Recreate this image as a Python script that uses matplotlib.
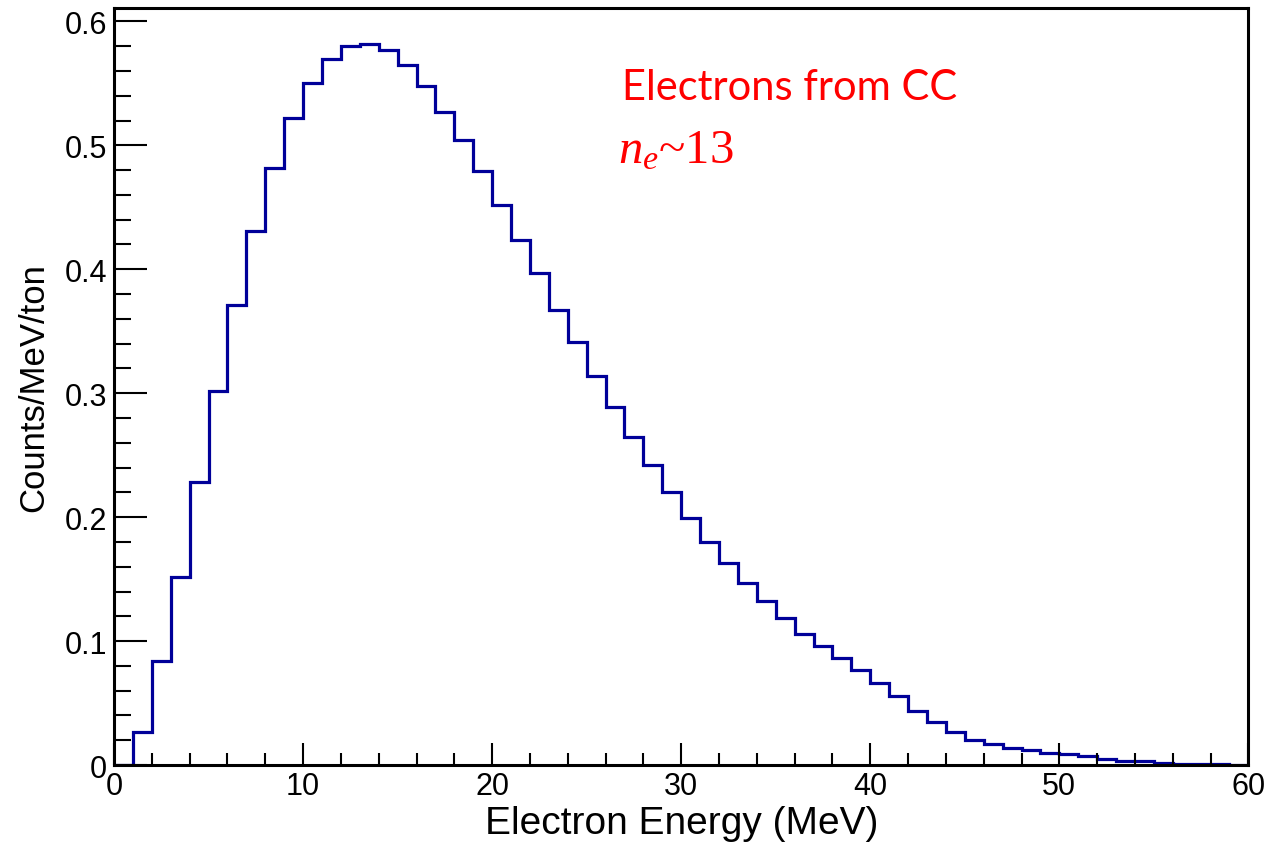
import numpy as np
import matplotlib
matplotlib.use("Agg")
import matplotlib.pyplot as plt
from matplotlib.ticker import MultipleLocator

# bin edges (MeV) and contents (counts/MeV/ton)
bin_edges = np.arange(0, 61, 1)
counts = [0.000, 0.027, 0.084, 0.152, 0.228, 0.302, 0.371, 0.431, 0.482, 0.522,
          0.550, 0.570, 0.580, 0.582, 0.577, 0.565, 0.548, 0.527, 0.504, 0.479,
          0.452, 0.424, 0.397, 0.367, 0.341, 0.314, 0.289, 0.265, 0.242, 0.220,
          0.199, 0.180, 0.163, 0.147, 0.132, 0.119, 0.106, 0.096, 0.086, 0.077,
          0.066, 0.056, 0.044, 0.035, 0.027, 0.020, 0.017, 0.014, 0.012, 0.010,
          0.009, 0.007, 0.005, 0.003, 0.003, 0.0015, 0.001, 0.0007, 0.0005, 0.0003]

y_ticks = [0, 0.1, 0.2, 0.3, 0.4, 0.5, 0.6]
y_tick_labels = ['0', '0.1', '0.2', '0.3', '0.4', '0.5', '0.6']
x_label = "Electron Energy (MeV)"
y_label = "Counts/MeV/ton"
note_line1 = "Electrons from CC"
note_line2 = r"$n_e$~13"

plt.rcParams['font.family'] = ['Liberation Sans', 'DejaVu Sans']
plt.rcParams['mathtext.fontset'] = 'custom'
plt.rcParams['mathtext.it'] = 'Liberation Serif:italic'
plt.rcParams['mathtext.rm'] = 'Liberation Serif'

fig = plt.figure(figsize=(12.71, 8.54), dpi=100)
ax = fig.add_axes([0.0897, 0.103, 0.8925, 0.886])

ax.stairs(counts, bin_edges, color='#000099', linewidth=2.3)

ax.set_xlim(0, 60)
ax.set_ylim(0, 0.6105)

ax.xaxis.set_major_locator(MultipleLocator(10))
ax.xaxis.set_minor_locator(MultipleLocator(2))
ax.yaxis.set_minor_locator(MultipleLocator(0.02))
ax.set_yticks(y_ticks)
ax.set_yticklabels(y_tick_labels)

ax.tick_params(axis='both', which='both', direction='in', top=False, right=False,
               width=1.5, labelsize=22, colors='black')
ax.tick_params(axis='y', which='major', length=24, pad=5)
ax.tick_params(axis='y', which='minor', length=12)
ax.tick_params(axis='x', which='major', length=16, pad=4)
ax.tick_params(axis='x', which='minor', length=9)

for side in ax.spines.values():
    side.set_linewidth(2.2)

ax.set_xlabel(x_label, fontsize=28, labelpad=3)
ax.set_ylabel(y_label, fontsize=25, labelpad=10)

ax.text(0.448, 0.880, note_line1, transform=ax.transAxes, color='red',
        fontsize=30, family='Lato', va='baseline')
ax.text(0.444, 0.797, note_line2, transform=ax.transAxes, color='red',
        fontsize=35, family='Liberation Serif', va='baseline')

fig.savefig("out.png", dpi=100)
